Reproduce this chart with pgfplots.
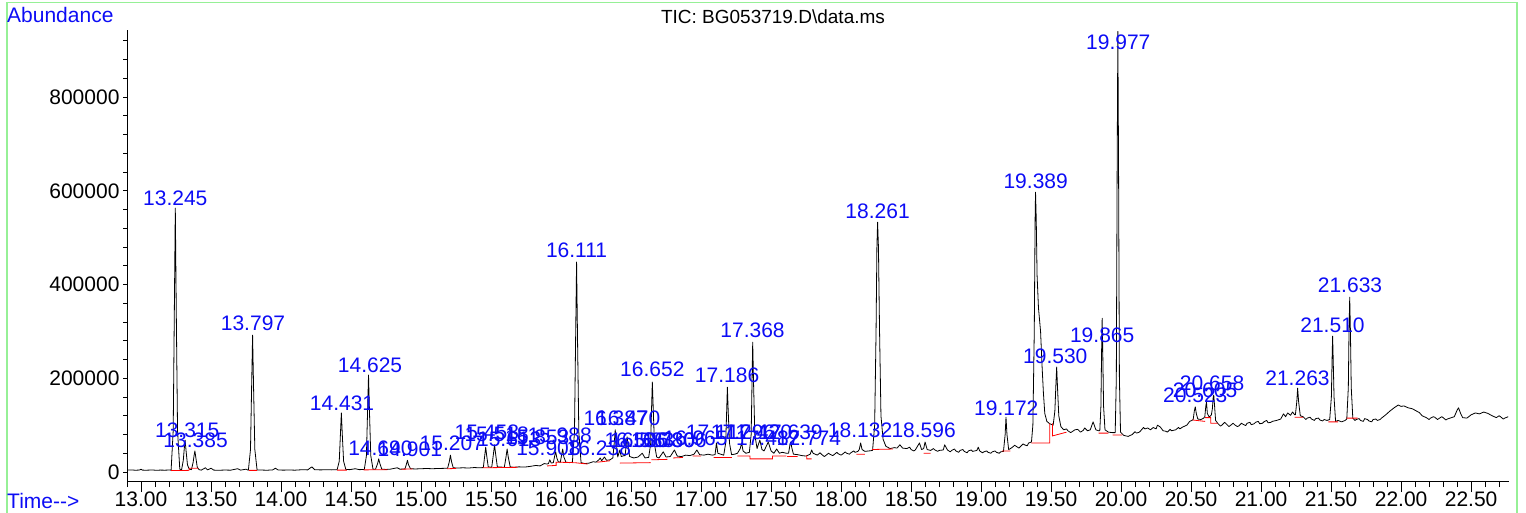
\documentclass[border=0pt]{standalone}
\usepackage{fontspec}
\setmainfont{Liberation Sans}
\usepackage{pgfplots}
\pgfplotsset{compat=1.18}
\definecolor{peakblue}{RGB}{12,12,245}
\definecolor{framegreen}{RGB}{150,240,150}
\tikzset{peak/.style={text=peakblue, font=\fontsize{21}{21}\selectfont, inner sep=0pt, anchor=center}}
\begin{document}
\begin{tikzpicture}
\useasboundingbox (0,0) rectangle (1526pt,-512pt);
\draw[framegreen, line width=1.5pt] (7pt,-530pt) -- (7pt,-2.5pt) -- (1517pt,-2.5pt) -- (1517pt,-530pt);
\node[anchor=west, text=peakblue, font=\fontsize{21}{21}\selectfont, inner sep=0pt] at (7pt,-15pt) {Abundance};
\node[anchor=west, text=peakblue, font=\fontsize{21}{21}\selectfont, inner sep=0pt] at (7pt,-501pt) {Time-{}-{}>};
\node[font=\fontsize{19}{19}\selectfont, inner sep=0pt] at (773pt,-17pt) {TIC: BG053719.D\textbackslash data.ms};
\begin{axis}[
  at={(127pt,-481pt)}, anchor=south west, scale only axis,
  width=1382pt, height=451pt,
  xmin=12.9, xmax=22.77, ymin=-19200, ymax=943000,
  axis x line=bottom, axis y line=left,
  axis line style={-, line width=1pt, black},
  tick align=outside,
  major tick length=4pt, minor tick length=4pt,
  every major x tick/.append style={/pgfplots/major tick length=11pt},
  every minor x tick/.append style={/pgfplots/minor tick length=6pt},
  tick style={black, line width=0.8pt},
  xtick={13,13.5,...,22.5},
  minor xtick={12.9,13.0,...,22.75},
  ytick={0,200000,...,800000},
  minor ytick={0,40000,...,920000},
  scaled y ticks=false, scaled x ticks=false,
  /pgf/number format/assume math mode=true,
  tick label style={font=\fontsize{21}{21}\selectfont},
  x tick label style={yshift=-3pt, /pgf/number format/.cd, fixed, fixed zerofill, precision=2, /tikz/.cd},
  y tick label style={/pgf/number format/.cd, fixed, 1000 sep={}, /tikz/.cd},
]
\addplot[black, line width=0.8pt, line join=round, no markers] coordinates {
(12.90,4000)(12.93,4500)(12.96,3800)(12.99,4200)(13.00,6000)(13.01,4000)(13.04,3900)(13.08,4300)(13.11,3700)(13.14,4100)(13.17,3900)(13.20,4200)
(13.215,4000)(13.230,88000)(13.238,340000)(13.245,563000)(13.252,340000)(13.261,88000)(13.277,6000)
(13.29,5000)(13.302,25000)(13.309,50000)(13.315,68000)(13.322,45000)(13.332,15000)(13.345,6000)
(13.36,5000)(13.372,20000)(13.379,35000)(13.385,45000)(13.392,30000)(13.402,10000)(13.415,5000)
(13.43,4000)(13.46,9000)(13.475,4500)(13.50,8000)(13.52,4000)(13.56,3800)(13.60,4200)(13.64,3900)(13.69,7000)(13.71,4000)(13.75,6000)(13.765,4000)
(13.767,4000)(13.782,48000)(13.790,180000)(13.797,292000)(13.804,180000)(13.813,48000)(13.829,4500)
(13.86,4200)(13.90,3800)(13.94,4500)(13.96,8000)(13.98,4200)(14.02,4000)(14.06,4300)(14.10,3900)(14.13,4500)(14.16,5000)(14.19,4500)(14.22,11000)(14.24,5000)(14.28,4500)(14.32,4800)(14.36,4600)(14.39,5000)
(14.401,5000)(14.416,23000)(14.424,78000)(14.431,126000)(14.438,78000)(14.447,23000)(14.463,5500)
(14.49,5000)(14.53,7000)(14.56,5000)(14.59,5500)
(14.595,5500)(14.610,35000)(14.618,127000)(14.625,207000)(14.632,127000)(14.641,35000)(14.657,6000)
(14.675,6000)(14.69,18000)(14.698,28000)(14.706,18000)(14.72,6000)
(14.75,5500)(14.78,6000)(14.83,9000)(14.85,6000)(14.88,6500)
(14.885,6500)(14.895,16000)(14.903,25000)(14.911,15000)(14.925,7000)
(14.96,6500)(15.00,7000)(15.04,7500)(15.08,7000)(15.12,7500)(15.16,7800)(15.19,8000)
(15.202,22000)(15.21,36000)(15.218,22000)(15.23,9000)
(15.26,8500)(15.30,9000)(15.34,8500)(15.38,9500)(15.42,9000)(15.445,9500)
(15.455,35000)(15.462,53000)(15.469,35000)(15.48,11000)
(15.505,10000)(15.517,38000)(15.525,58000)(15.533,38000)(15.545,11000)
(15.595,10000)(15.607,32000)(15.615,49000)(15.623,32000)(15.637,11000)
(15.66,10000)(15.70,11000)(15.74,10500)(15.78,12000)(15.82,14000)(15.85,13000)(15.88,18000)(15.90,17000)
(15.91,18000)(15.92,26000)(15.93,19000)
(15.945,20000)(15.955,35000)(15.962,43000)(15.97,30000)(15.98,22000)
(15.995,21000)(16.005,38000)(16.012,49000)(16.02,32000)(16.035,21000)
(16.06,20000)(16.08,21000)
(16.081,21000)(16.096,85000)(16.104,280000)(16.111,448000)(16.118,280000)(16.127,85000)(16.143,20000)
(16.17,18000)(16.20,19000)(16.23,22000)(16.25,21000)(16.27,26000)(16.28,30000)(16.29,24000)(16.31,32000)(16.325,25000)(16.35,26000)(16.37,30000)
(16.381,65000)(16.387,90000)(16.394,65000)(16.405,32000)
(16.42,47000)(16.43,33000)(16.45,35000)
(16.458,35000)(16.466,60000)(16.472,75000)(16.479,55000)(16.49,33000)
(16.52,30000)(16.55,32000)(16.58,40000)(16.60,30000)(16.62,31000)
(16.626,31000)(16.640,60000)(16.647,140000)(16.652,192000)(16.658,140000)(16.667,60000)(16.683,32000)
(16.70,30000)(16.73,43000)(16.75,32000)(16.78,33000)(16.81,47000)(16.83,34000)(16.86,33000)(16.89,36000)(16.92,35000)(16.95,38000)(16.97,47000)(16.99,37000)(17.02,36000)(17.05,38000)(17.08,36000)
(17.10,37000)(17.11,62000)(17.12,40000)(17.14,38000)(17.16,36000)
(17.162,36000)(17.176,62000)(17.183,130000)(17.188,181000)(17.194,130000)(17.203,62000)(17.218,37000)
(17.24,38000)(17.26,40000)(17.28,50000)(17.29,62000)(17.30,45000)(17.32,40000)(17.345,42000)
(17.358,80000)(17.364,190000)(17.369,277000)(17.375,190000)(17.384,80000)(17.40,50000)
(17.42,68000)(17.435,48000)(17.45,45000)(17.48,64000)(17.50,45000)(17.52,40000)(17.54,49000)(17.56,40000)(17.58,42000)(17.61,40000)
(17.625,40000)(17.635,58000)(17.641,64000)(17.648,52000)(17.66,38000)
(17.69,37000)(17.72,35000)(17.75,34000)(17.78,38000)(17.79,47000)(17.80,40000)(17.83,36000)(17.85,41000)(17.86,38000)(17.88,33000)(17.89,35000)(17.91,40000)(17.92,38000)(17.94,35000)(17.95,37000)(17.97,42000)(17.98,39000)(18.00,36000)(18.01,38000)(18.03,43000)(18.04,40000)(18.06,38000)(18.07,41000)(18.09,45000)(18.10,42000)(18.12,44000)
(18.13,48000)(18.14,62000)(18.15,48000)(18.17,44000)(18.20,45000)(18.225,46000)
(18.240,100000)(18.250,300000)(18.256,480000)(18.261,533000)(18.267,480000)(18.275,300000)(18.285,120000)(18.30,70000)(18.32,55000)(18.35,50000)
(18.38,52000)(18.40,51000)(18.42,58000)(18.44,51000)(18.47,50000)(18.49,53000)(18.50,48000)(18.52,45000)(18.53,47000)(18.56,62000)(18.575,48000)(18.59,50000)(18.60,64000)(18.615,48000)(18.64,46000)(18.66,50000)(18.67,47000)(18.69,44000)(18.70,46000)(18.73,47000)(18.74,58000)(18.76,47000)(18.78,43000)(18.79,46000)(18.81,49000)(18.82,45000)(18.84,42000)(18.85,46000)(18.87,48000)(18.88,44000)(18.90,41000)(18.91,45000)(18.93,47000)(18.94,44000)(18.97,46000)(18.98,53000)(18.99,45000)(19.01,41000)(19.02,43000)(19.04,45000)(19.05,42000)(19.07,40000)(19.08,43000)(19.10,45000)(19.11,42000)(19.13,40000)(19.14,43000)(19.16,44000)
(19.172,80000)(19.178,117000)(19.185,80000)(19.197,48000)
(19.21,50000)(19.22,52000)(19.24,57000)(19.25,55000)(19.27,51000)(19.28,54000)(19.30,60000)(19.31,58000)(19.33,56000)(19.34,62000)(19.36,64000)
(19.37,100000)(19.38,300000)(19.386,540000)(19.389,597000)(19.394,540000)(19.40,420000)(19.41,350000)(19.425,300000)(19.435,230000)(19.445,170000)(19.455,125000)(19.47,108000)(19.49,103000)
(19.515,100000)(19.527,130000)(19.535,190000)(19.54,224000)(19.546,180000)(19.555,120000)(19.57,97000)(19.59,90000)
(19.61,92000)(19.62,88000)(19.64,84000)(19.65,86000)(19.67,90000)(19.69,91000)(19.71,85000)(19.73,89000)(19.74,94000)(19.76,88000)(19.78,90000)(19.80,107000)(19.82,90000)(19.84,88000)
(19.848,88000)(19.856,140000)(19.861,260000)(19.865,328000)(19.869,260000)(19.875,140000)(19.885,90000)
(19.91,85000)(19.94,84000)(19.955,84000)
(19.958,84000)(19.966,200000)(19.972,650000)(19.977,940000)(19.982,650000)(19.988,200000)(19.996,85000)
(20.02,78000)(20.05,76000)(20.08,80000)(20.10,86000)(20.11,83000)(20.13,85000)(20.14,88000)(20.16,95000)(20.17,92000)(20.19,94000)(20.21,90000)(20.23,95000)(20.25,92000)(20.26,100000)(20.28,96000)(20.30,88000)(20.32,87000)(20.33,85000)(20.35,91000)(20.36,88000)(20.39,90000)(20.41,95000)(20.42,92000)(20.44,96000)(20.47,100000)(20.49,108000)(20.505,110000)
(20.515,112000)(20.523,130000)(20.53,139000)(20.537,125000)(20.548,113000)(20.57,112000)(20.59,115000)
(20.598,118000)(20.605,140000)(20.61,149000)(20.616,125000)(20.63,117000)(20.645,122000)
(20.652,135000)(20.658,160000)(20.662,164000)(20.668,140000)(20.675,110000)(20.69,104000)
(20.71,98000)(20.72,100000)(20.74,106000)(20.75,103000)(20.77,97000)(20.78,99000)(20.80,104000)(20.81,101000)(20.83,97000)(20.84,98000)(20.86,104000)(20.87,102000)(20.89,99000)(20.90,104000)(20.92,106000)(20.93,101000)(20.95,103000)(20.96,106000)(20.98,108000)(20.99,103000)(21.01,104000)(21.02,107000)(21.04,110000)(21.05,105000)(21.07,106000)(21.08,108000)(21.11,110000)(21.14,113000)(21.16,124000)(21.175,118000)(21.19,126000)(21.21,121000)(21.225,128000)(21.24,122000)
(21.245,122000)(21.255,150000)(21.261,179000)(21.268,150000)(21.28,120000)(21.30,118000)(21.32,112000)(21.33,115000)(21.35,117000)(21.36,113000)(21.38,110000)(21.39,114000)(21.41,115000)(21.42,111000)(21.44,109000)(21.45,112000)(21.47,110000)(21.49,112000)
(21.502,160000)(21.507,240000)(21.511,290000)(21.515,240000)(21.521,160000)(21.532,108000)
(21.55,110000)(21.575,107000)(21.60,110000)(21.612,113000)
(21.623,180000)(21.628,300000)(21.633,373000)(21.638,300000)(21.644,180000)(21.655,115000)
(21.67,110000)(21.68,112000)(21.70,114000)(21.71,110000)(21.73,108000)(21.74,114000)(21.76,112000)(21.77,109000)(21.79,107000)(21.80,112000)(21.82,113000)(21.83,110000)(21.85,112000)(21.86,115000)(21.89,122000)(21.92,130000)(21.95,137000)(21.98,143000)(22.00,140000)(22.02,141000)(22.05,137000)(22.08,135000)(22.11,130000)(22.13,127000)(22.15,120000)(22.18,116000)(22.20,112000)(22.21,115000)(22.23,118000)(22.24,117000)(22.26,112000)(22.27,114000)(22.29,118000)(22.30,116000)(22.32,111000)(22.33,113000)(22.36,116000)(22.38,118000)(22.40,132000)(22.41,137000)(22.425,125000)(22.44,116000)(22.47,115000)(22.50,122000)(22.53,126000)(22.56,124000)(22.59,128000)(22.62,125000)(22.65,120000)(22.68,116000)(22.70,120000)(22.71,118000)(22.73,113000)(22.74,115000)(22.765,118000)
};
\addplot[red, line width=0.8pt, no markers, unbounded coords=jump] coordinates {
(13.215,3000)(13.34,3500)(13.34,nan)
(13.345,3500)(13.345,8000)(13.41,8000)(13.41,nan)
(13.77,3500)(13.83,3500)(13.83,nan)
(14.40,4000)(14.47,4000)(14.47,nan)
(14.59,4500)(14.76,5000)(14.76,nan)
(14.86,6000)(14.94,6500)(14.94,nan)
(15.185,7000)(15.25,7500)(15.25,nan)
(15.44,9000)(15.69,10000)(15.69,nan)
(15.90,13000)(15.965,14000)(15.965,21000)(16.09,20000)(16.09,nan)
(16.095,20000)(16.19,17000)(16.19,nan)
(16.26,21000)(16.35,24000)(16.35,nan)
(16.42,19000)(16.64,20000)(16.64,nan)
(16.645,26000)(16.76,27000)(16.76,nan)
(16.80,30000)(16.87,31000)(16.87,nan)
(16.94,34000)(17.00,34000)(17.00,nan)
(17.09,31000)(17.22,31000)(17.22,nan)
(17.26,34000)(17.35,34000)(17.35,28000)(17.51,28000)(17.51,34000)(17.61,34000)(17.61,nan)
(17.615,33000)(17.69,33000)(17.69,nan)
(17.755,36000)(17.755,28000)(17.79,28000)(17.79,nan)
(18.11,38000)(18.17,38000)(18.17,nan)
(18.22,48000)(18.37,49000)(18.37,nan)
(18.59,40000)(18.64,40000)(18.64,nan)
(19.15,45000)(19.21,45000)(19.21,nan)
(19.36,62000)(19.49,62000)(19.49,104000)(19.49,nan)
(19.51,104000)(19.51,77000)(19.61,85000)(19.61,nan)
(19.84,83000)(19.91,83000)(19.91,nan)
(19.94,79000)(20.01,79000)(20.01,nan)
(20.51,111000)(20.60,108000)(20.60,nan)
(20.60,116000)(20.64,116000)(20.64,104000)(20.69,104000)(20.69,nan)
(21.24,117000)(21.30,117000)(21.30,nan)
(21.48,107000)(21.55,107000)(21.55,nan)
(21.61,115000)(21.69,115000)
};
\node[peak] at (axis cs:13.245,584000) {13.245};
\node[peak] at (axis cs:13.33,90000) {13.315};
\node[peak] at (axis cs:13.39,68000) {13.385};
\node[peak] at (axis cs:13.80,318000) {13.797};
\node[peak] at (axis cs:14.436,147000) {14.431};
\node[peak] at (axis cs:14.636,228000) {14.625};
\node[peak] at (axis cs:14.71,51000) {14.690};
\node[peak] at (axis cs:14.92,49000) {14.901};
\node[peak] at (axis cs:15.22,62000) {15.207};
\node[peak] at (axis cs:15.47,85000) {15.458};
\node[peak] at (axis cs:15.54,81000) {15.518};
\node[peak] at (axis cs:15.63,70000) {15.613};
\node[peak] at (axis cs:15.83,75000) {15.853};
\node[peak] at (axis cs:15.99,79000) {15.988};
\node[peak] at (axis cs:15.91,51000) {15.908};
\node[peak] at (axis cs:16.111,474000) {16.111};
\node[peak] at (axis cs:16.27,51000) {16.238};
\node[peak] at (axis cs:16.39,115000) {16.387};
\node[peak] at (axis cs:16.48,115000) {16.470};
\node[peak] at (axis cs:16.54,68000) {16.536};
\node[peak] at (axis cs:16.58,68000) {16.583};
\node[peak] at (axis cs:16.652,219000) {16.652};
\node[peak] at (axis cs:16.73,68000) {16.730};
\node[peak] at (axis cs:16.81,68000) {16.806};
\node[peak] at (axis cs:16.96,72000) {16.965};
\node[peak] at (axis cs:17.11,85000) {17.111};
\node[peak] at (axis cs:17.186,207000) {17.186};
\node[peak] at (axis cs:17.30,85000) {17.296};
\node[peak] at (axis cs:17.368,303000) {17.368};
\node[peak] at (axis cs:17.42,85000) {17.420};
\node[peak] at (axis cs:17.48,72000) {17.482};
\node[peak] at (axis cs:17.639,85000) {17.639};
\node[peak] at (axis cs:17.77,72000) {17.774};
\node[peak] at (axis cs:18.136,90000) {18.132};
\node[peak] at (axis cs:18.261,557000) {18.261};
\node[peak] at (axis cs:18.59,90000) {18.596};
\node[peak] at (axis cs:19.18,137000) {19.172};
\node[peak] at (axis cs:19.39,621000) {19.389};
\node[peak] at (axis cs:19.53,247000) {19.530};
\node[peak] at (axis cs:19.865,292000) {19.865};
\node[peak] at (axis cs:19.98,917000) {19.977};
\node[peak] at (axis cs:20.53,164000) {20.523};
\node[peak] at (axis cs:20.60,175000) {20.605};
\node[peak] at (axis cs:20.65,190000) {20.658};
\node[peak] at (axis cs:21.26,200000) {21.263};
\node[peak] at (axis cs:21.51,313000) {21.510};
\node[peak] at (axis cs:21.635,399000) {21.633};
\end{axis}
\end{tikzpicture}
\end{document}
